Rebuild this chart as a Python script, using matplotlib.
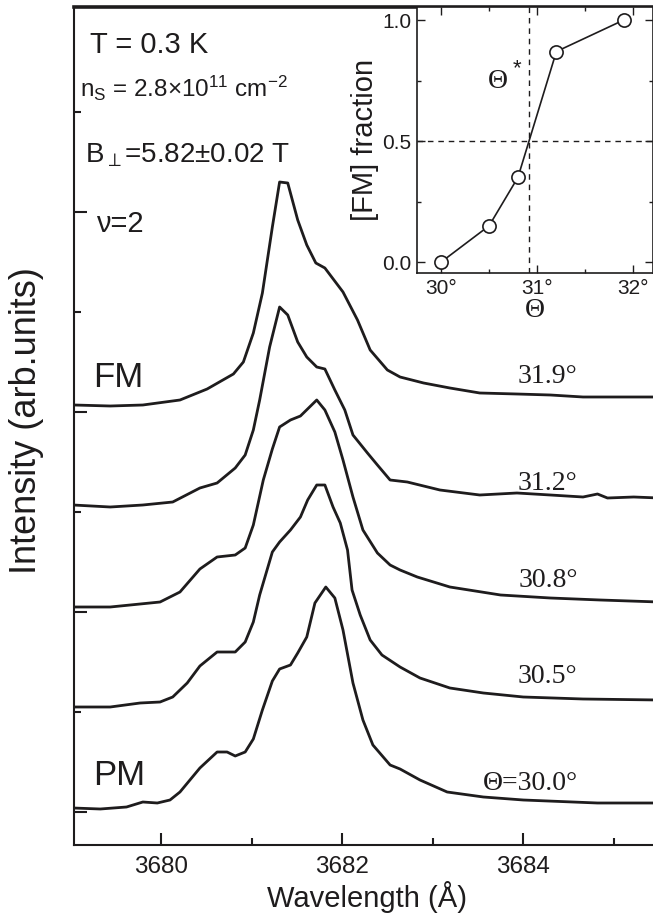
import matplotlib
matplotlib.use("Agg")
import matplotlib.pyplot as plt
from matplotlib.ticker import FixedLocator

plt.rcParams['font.family'] = ['Liberation Sans', 'DejaVu Sans']
plt.rcParams['mathtext.fontset'] = 'custom'
plt.rcParams['mathtext.rm'] = 'Liberation Sans'
plt.rcParams['mathtext.it'] = 'Liberation Sans:italic'

# spectra (wavelength in A, intensity in arb. units)
wl_319 = [3679.04, 3679.44, 3679.80, 3680.21, 3680.51, 3680.80, 3680.91, 3681.02, 3681.12,
          3681.23, 3681.31, 3681.40, 3681.51, 3681.61, 3681.71, 3681.81, 3682.01, 3682.17,
          3682.31, 3682.50, 3682.64, 3682.90, 3683.19, 3683.52, 3683.93, 3684.30, 3684.66,
          3685.04, 3685.50]
in_319 = [0.07, 0.06, 0.07, 0.12, 0.23, 0.38, 0.50, 0.79, 1.19, 1.85, 2.30, 2.29, 1.92, 1.67,
          1.49, 1.44, 1.20, 0.92, 0.62, 0.42, 0.35, 0.29, 0.24, 0.19, 0.18, 0.17, 0.15, 0.15, 0.15]

wl_312 = [3679.03, 3679.44, 3679.80, 3680.13, 3680.43, 3680.62, 3680.82, 3680.93, 3681.02,
          3681.09, 3681.20, 3681.31, 3681.40, 3681.51, 3681.61, 3681.72, 3681.81, 3681.92,
          3682.03, 3682.12, 3682.28, 3682.39, 3682.53, 3682.72, 3683.08, 3683.52, 3683.93,
          3684.30, 3684.66, 3684.82, 3684.93, 3685.22, 3685.50]
in_312 = [0.07, 0.05, 0.07, 0.10, 0.24, 0.29, 0.44, 0.57, 0.82, 1.12, 1.65, 2.05, 1.97, 1.70,
          1.55, 1.45, 1.43, 1.22, 1.02, 0.77, 0.59, 0.47, 0.32, 0.30, 0.22, 0.17, 0.19, 0.17,
          0.15, 0.18, 0.14, 0.15, 0.14]

wl_308 = [3679.03, 3679.44, 3679.99, 3680.21, 3680.43, 3680.62, 3680.82, 3680.93, 3681.02,
          3681.13, 3681.23, 3681.31, 3681.43, 3681.54, 3681.72, 3681.81, 3681.92, 3682.01,
          3682.12, 3682.23, 3682.39, 3682.53, 3682.64, 3682.83, 3683.19, 3683.75, 3684.30,
          3684.85, 3685.50]
in_308 = [0.05, 0.05, 0.10, 0.20, 0.43, 0.55, 0.57, 0.64, 0.87, 1.32, 1.63, 1.85, 1.92, 1.96,
          2.12, 2.02, 1.80, 1.52, 1.15, 0.82, 0.59, 0.47, 0.42, 0.35, 0.25, 0.17, 0.14, 0.12, 0.10]

wl_305 = [3679.03, 3679.44, 3679.77, 3679.99, 3680.13, 3680.29, 3680.43, 3680.62, 3680.82,
          3680.93, 3681.02, 3681.09, 3681.23, 3681.31, 3681.43, 3681.54, 3681.62, 3681.72,
          3681.81, 3681.90, 3681.98, 3682.06, 3682.11, 3682.20, 3682.31, 3682.44, 3682.64,
          3682.86, 3683.19, 3683.56, 3684.00, 3684.66, 3685.50]
in_305 = [0.05, 0.05, 0.09, 0.10, 0.15, 0.29, 0.46, 0.60, 0.60, 0.70, 0.90, 1.17, 1.60, 1.70,
          1.82, 1.95, 2.12, 2.27, 2.27, 2.05, 1.89, 1.62, 1.22, 0.97, 0.72, 0.57, 0.45, 0.34,
          0.24, 0.19, 0.15, 0.13, 0.12]

wl_300 = [3679.03, 3679.33, 3679.62, 3679.80, 3679.96, 3680.10, 3680.21, 3680.43, 3680.62,
          3680.73, 3680.82, 3680.93, 3681.02, 3681.12, 3681.23, 3681.31, 3681.43, 3681.51,
          3681.61, 3681.70, 3681.82, 3681.92, 3682.01, 3682.12, 3682.23, 3682.34, 3682.53,
          3682.64, 3682.86, 3683.16, 3683.56, 3684.00, 3684.82, 3685.50]
in_300 = [0.04, 0.03, 0.05, 0.10, 0.09, 0.12, 0.20, 0.44, 0.60, 0.60, 0.56, 0.60, 0.73, 1.02,
          1.31, 1.43, 1.47, 1.59, 1.75, 2.09, 2.25, 2.14, 1.82, 1.29, 0.92, 0.67, 0.47, 0.43,
          0.32, 0.20, 0.15, 0.12, 0.09, 0.09]

spectra = [(wl_319, in_319), (wl_312, in_312), (wl_308, in_308), (wl_305, in_305), (wl_300, in_300)]
offsets = [4, 3, 2, 1, 0]
angle_labels = ['31.9°', '31.2°', '30.8°', '30.5°', 'Θ=30.0°']

# inset: FM fraction vs tilt angle
theta = [30.0, 30.5, 30.8, 31.2, 31.9]
fm_frac = [0.0, 0.15, 0.35, 0.87, 1.0]
theta_star = 30.91

ink = '#1e1c1d'
W, H = 653, 917
fig = plt.figure(figsize=(W / 100, H / 100), dpi=100)

ax = fig.add_axes([74 / W, (H - 845) / H, (660 - 74) / W, (845 - 7) / H])
for (wl, inten), off in zip(spectra, offsets):
    ax.plot(wl, [v + off for v in inten], color=ink, lw=2.0)
ax.set_xlim(3679.04, 3685.51)
ax.set_ylim(-0.33, 8.05)
ax.xaxis.set_major_locator(FixedLocator([3680, 3682, 3684]))
ax.xaxis.set_minor_locator(FixedLocator([3681, 3683, 3685]))
ax.yaxis.set_major_locator(FixedLocator([0, 2, 4, 6]))
ax.yaxis.set_minor_locator(FixedLocator([1, 3, 5, 7]))
ax.tick_params(axis='both', which='both', direction='in', color=ink, width=1.5)
ax.tick_params(axis='both', which='major', length=9)
ax.tick_params(axis='both', which='minor', length=5)
ax.tick_params(axis='x', labelsize=17.5, pad=8, labelcolor=ink)
ax.tick_params(axis='y', labelleft=False)
for s in ax.spines.values():
    s.set_linewidth(1.5)
    s.set_color(ink)
ax.spines['top'].set_linewidth(2.6)
ax.set_xlabel('Wavelength (Å)', fontsize=21, color=ink, labelpad=2)
fig.text(27 / W, (H - 421) / H, 'Intensity (arb.units)', rotation=90, fontsize=26,
         color=ink, ha='center', va='center')

tr = ax.transAxes
ax.text(0.027, 0.945, 'T = 0.3 K', transform=tr, fontsize=21, color=ink, va='baseline')
ax.text(0.010, 0.8926, r'$\mathregular{n_S}$ = 2.8×10$^{\mathregular{11}}$ cm$^{\mathregular{-2}}$',
        transform=tr, fontsize=17.5, color=ink, va='baseline')
ax.text(0.019, 0.815, r'B$_{\perp}$=5.82±0.02 T', transform=tr, fontsize=20, color=ink,
        va='baseline')
ax.text(0.0375, 0.7315, 'ν=2', transform=tr, fontsize=21, color=ink, va='baseline')
ax.text(0.032, 0.5465, 'FM', transform=tr, fontsize=25, color=ink, va='baseline')
ax.text(0.032, 0.0716, 'PM', transform=tr, fontsize=25, color=ink, va='baseline')

label_y = [4.29, 3.22, 2.25, 1.29, 0.22]
for lab, yy in zip(angle_labels, label_y):
    ax.text(3684.60, yy, lab, fontsize=20, color=ink, ha='right', va='baseline',
            family=['Liberation Serif', 'DejaVu Serif'])

# inset
ax2 = fig.add_axes([417 / W, (H - 273) / H, (652.5 - 417) / W, (273 - 7) / H])
ax2.plot(theta, fm_frac, color=ink, lw=1.2, marker='o', markersize=9.5,
         markerfacecolor='white', markeredgecolor=ink, markeredgewidth=1.2)
ax2.axvline(theta_star, color=ink, lw=1.0, ls=(0, (4, 3.5)))
ax2.axhline(0.5, color=ink, lw=1.0, ls=(0, (4, 3.5)))
ax2.set_xlim(29.75, 32.2)
ax2.set_ylim(-0.045, 1.054)
ax2.xaxis.set_major_locator(FixedLocator([30, 31, 32]))
ax2.xaxis.set_minor_locator(FixedLocator([30.5, 31.5]))
ax2.set_xticklabels(['30°', '31°', '32°'])
ax2.yaxis.set_major_locator(FixedLocator([0.0, 0.5, 1.0]))
ax2.yaxis.set_minor_locator(FixedLocator([0.25, 0.75]))
ax2.set_yticklabels(['0.0', '0.5', '1.0'])
ax2.tick_params(axis='both', which='both', direction='in', top=True, right=True,
                color=ink, width=1.0, labelsize=15, labelcolor=ink)
ax2.tick_params(axis='both', which='major', length=6, pad=4)
ax2.tick_params(axis='both', which='minor', length=3)
for s in ax2.spines.values():
    s.set_linewidth(1.2)
    s.set_color(ink)
ax2.set_ylabel('[FM] fraction', fontsize=21, color=ink, labelpad=2)
ax2.set_xlabel('Θ', fontsize=20, color=ink, labelpad=0, family=['Liberation Serif'])
ax2.text(30.59, 0.748, 'Θ', fontsize=20, color=ink, ha='center', va='center',
         family=['Liberation Serif'])
ax2.text(30.79, 0.80, '*', fontsize=16, color=ink, ha='center', va='center')

fig.savefig('out.png', dpi=100, facecolor='white')
